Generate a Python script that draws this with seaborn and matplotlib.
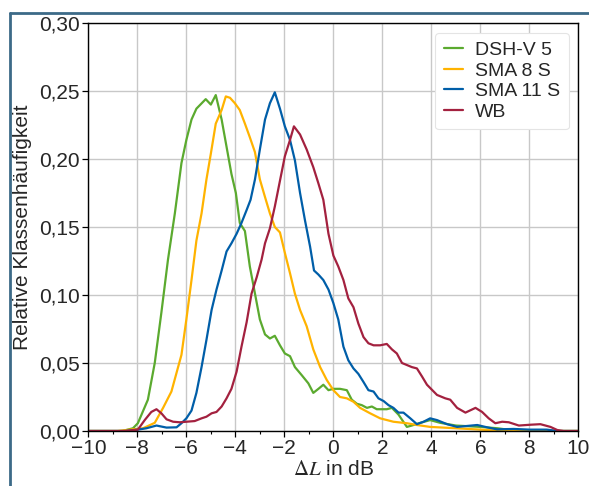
import numpy as np
import pandas as pd
import matplotlib
matplotlib.use("Agg")
import matplotlib.pyplot as plt
import seaborn as sns
from matplotlib.ticker import FuncFormatter, MultipleLocator
from matplotlib.lines import Line2D

series_names = ["DSH-V 5", "SMA 8 S", "SMA 11 S", "WB"]
colors = ["#5BAA2F", "#FFB300", "#005EA8", "#A3213F"]

dsh_x = [-10, -8.6, -8.18, -7.98, -7.57, -7.29, -7.02, -6.75, -6.47, -6.2, -6.0, -5.79, -5.59, -5.21,
         -5.0, -4.8, -4.56, -4.36, -4.16, -3.98, -3.82, -3.61, -3.41, -3.2, -3.0, -2.79, -2.59,
         -2.39, -2.18, -1.98, -1.77, -1.57, -1.29, -1.02, -0.82, -0.61, -0.41, -0.2, 0.0, 0.27,
         0.55, 0.75, 0.96, 1.16, 1.37, 1.57, 1.77, 2.18, 2.39, 2.66, 3.0, 3.2, 3.55, 3.95, 4.36,
         5.0, 6.0, 6.7, 7.5, 10]
dsh_y = [0.0, 0.0, 0.002, 0.0057, 0.023, 0.05, 0.087, 0.126, 0.16, 0.197, 0.214, 0.229, 0.237, 0.244,
         0.240, 0.247, 0.229, 0.209, 0.189, 0.175, 0.153, 0.147, 0.121, 0.101, 0.082, 0.071, 0.068,
         0.070, 0.063, 0.057, 0.055, 0.047, 0.041, 0.035, 0.028, 0.031, 0.034, 0.030, 0.031, 0.031,
         0.030, 0.023, 0.020, 0.019, 0.017, 0.018, 0.016, 0.016, 0.017, 0.012, 0.003, 0.004, 0.006, 0.008, 0.006,
         0.004, 0.003, 0.002, 0.0, 0.0]

sma8_x = [-10, -8.8, -8.3, -7.77, -7.29, -6.95, -6.61, -6.2, -6.0, -5.79, -5.59, -5.38, -5.18, -5.0,
          -4.8, -4.56, -4.39, -4.22, -4.02, -3.82, -3.61, -3.41, -3.2, -3.0, -2.79, -2.59, -2.39,
          -2.18, -1.98, -1.77, -1.57, -1.36, -1.09, -0.82, -0.54, -0.27, 0.0, 0.27, 0.55, 0.82,
          1.09, 1.5, 1.91, 2.45, 3.0, 3.41, 3.95, 5.0, 6.0, 7.0, 10]
sma8_y = [0.0, 0.0, 0.001, 0.002, 0.006, 0.017, 0.029, 0.056, 0.082, 0.111, 0.140, 0.160, 0.185, 0.204,
          0.226, 0.236, 0.246, 0.245, 0.241, 0.236, 0.226, 0.216, 0.205, 0.185, 0.172, 0.160, 0.150,
          0.146, 0.131, 0.116, 0.101, 0.089, 0.077, 0.060, 0.047, 0.0375, 0.030, 0.025, 0.024, 0.0215,
          0.017, 0.013, 0.0093, 0.0068, 0.0057, 0.0044, 0.003, 0.002, 0.001, 0.0, 0.0]

sma11_x = [-10, -8.5, -7.98, -7.63, -7.22, -6.81, -6.4, -6.2, -6.0, -5.79, -5.59, -5.38, -5.18, -4.97,
           -4.77, -4.56, -4.36, -4.16, -3.95, -3.75, -3.54, -3.38, -3.2, -3.0, -2.79, -2.59, -2.39,
           -2.18, -1.98, -1.77, -1.57, -1.36, -1.16, -0.95, -0.79, -0.61, -0.41, -0.2, 0.0, 0.2,
           0.41, 0.61, 0.82, 1.02, 1.23, 1.43, 1.64, 1.84, 2.05, 2.25, 2.45, 2.66, 2.86, 3.14, 3.41,
           3.68, 3.95, 4.23, 4.64, 5.05, 5.46, 5.87, 6.27, 6.68, 7.36, 8.0, 8.7, 9.2, 10]
sma11_y = [0.0, 0.0, 0.001, 0.002, 0.004, 0.0025, 0.0027, 0.0057, 0.0093, 0.015, 0.028, 0.047, 0.067, 0.089,
           0.104, 0.118, 0.132, 0.138, 0.145, 0.153, 0.1625, 0.170, 0.185, 0.207, 0.229, 0.241, 0.249,
           0.237, 0.224, 0.214, 0.199, 0.175, 0.155, 0.1355, 0.118, 0.115, 0.111, 0.104, 0.094, 0.082,
           0.062, 0.052, 0.046, 0.042, 0.036, 0.030, 0.029, 0.024, 0.022, 0.019, 0.017, 0.0135, 0.0135, 0.0093, 0.005,
           0.0068, 0.0093, 0.008, 0.005, 0.003, 0.0037, 0.0044, 0.0027, 0.0012, 0.0015, 0.001, 0.001, 0.0, 0.0]

wb_x = [-10, -8.5, -7.98, -7.7, -7.43, -7.22, -7.02, -6.81, -6.54, -6.27, -6.0, -5.66, -5.38, -5.18,
        -4.97, -4.77, -4.56, -4.36, -4.16, -3.95, -3.75, -3.54, -3.34, -3.13, -2.93, -2.79, -2.59,
        -2.39, -2.18, -1.98, -1.77, -1.61, -1.36, -1.09, -0.82, -0.61, -0.41, -0.2, 0.0, 0.2, 0.41,
        0.61, 0.82, 1.02, 1.23, 1.43, 1.64, 1.91, 2.18, 2.39, 2.59, 2.8, 3.0, 3.2, 3.41, 3.62, 3.82,
        4.23, 4.57, 4.77, 5.05, 5.39, 5.8, 6.07, 6.34, 6.61, 6.89, 7.16, 7.57, 8.04, 8.45, 8.86,
        9.14, 9.4, 10]
wb_y = [0.0, 0.0, 0.001, 0.008, 0.014, 0.016, 0.013, 0.0086, 0.0068, 0.0064, 0.0068, 0.0073, 0.0093, 0.0105,
        0.013, 0.014, 0.018, 0.024, 0.031, 0.0436, 0.062, 0.080, 0.101, 0.113, 0.126, 0.138, 0.149,
        0.165, 0.184, 0.202, 0.214, 0.224, 0.218, 0.207, 0.194, 0.182, 0.170, 0.145, 0.129, 0.121, 0.111,
        0.0975, 0.091, 0.079, 0.069, 0.0645, 0.063, 0.063, 0.064, 0.060, 0.057, 0.050, 0.0485, 0.047, 0.046, 0.040, 0.034,
        0.0265, 0.024, 0.023, 0.017, 0.0135, 0.017, 0.014, 0.0093, 0.0057, 0.0068, 0.0064, 0.004, 0.0046, 0.005, 0.003,
        0.0007, 0.0, 0.0]

frames = []
for name, xs, ys in zip(series_names, [dsh_x, sma8_x, sma11_x, wb_x], [dsh_y, sma8_y, sma11_y, wb_y]):
    frames.append(pd.DataFrame({"x": xs, "y": ys, "Serie": name, "order": np.arange(len(xs))}))
df = pd.concat(frames, ignore_index=True)

sns.set_style("whitegrid")
plt.rcParams["font.family"] = ["Liberation Sans", "DejaVu Sans"]
plt.rcParams["mathtext.fontset"] = "stix"

fig = plt.figure(figsize=(5.89, 4.86), dpi=100)
ax = fig.add_axes([0.150, 0.1132, 0.832, 0.8395])

sns.lineplot(data=df, x="x", y="y", hue="Serie", hue_order=series_names,
             palette=dict(zip(series_names, colors)), sort=False, estimator=None,
             units="Serie", linewidth=1.6, ax=ax, legend=False)

ax.set_xlim(-10, 10)
ax.set_ylim(0, 0.30)
ax.xaxis.set_major_locator(MultipleLocator(2))
ax.xaxis.set_minor_locator(MultipleLocator(1))
ax.yaxis.set_major_locator(MultipleLocator(0.05))
ax.xaxis.set_major_formatter(FuncFormatter(lambda v, p: f"{v:.0f}".replace("-", "\u2212")))
ax.yaxis.set_major_formatter(FuncFormatter(lambda v, p: f"{v:.2f}".replace(".", ",")))

ax.grid(True, which="major", color="#c8c8c8", linewidth=1.0)
ax.grid(False, which="minor")
for s in ax.spines.values():
    s.set_visible(True)
    s.set_color("black")
    s.set_linewidth(1.0)
ax.tick_params(axis="both", which="major", direction="out", length=4, width=0.9,
               labelsize=15, color="black", bottom=True, left=True, pad=2)
ax.tick_params(axis="x", which="minor", direction="out", length=2.5, width=0.8,
               color="black", bottom=True)

ax.set_xlabel(r"$\Delta L$ in dB", fontsize=15, labelpad=1)
ax.set_ylabel("Relative Klassenhäufigkeit", fontsize=15, labelpad=5)

handles = [Line2D([0], [0], color=c, lw=1.6) for c in colors]
leg = ax.legend(handles, series_names, loc="upper right", fontsize=14, frameon=True,
                fancybox=True, framealpha=1.0, handlelength=1.0,
                handletextpad=0.6, borderpad=0.45, labelspacing=0.15,
                bbox_to_anchor=(1.0, 1.0), edgecolor="#e4e4e4", facecolor="white")
leg.get_frame().set_linewidth(0.8)

# outer document frame (left and top edges)
fig.add_artist(Line2D([9.5 / 589, 9.5 / 589], [0, 1 - 13.5 / 486], transform=fig.transFigure,
                      color="#3C6A88", lw=2.0))
fig.add_artist(Line2D([9.5 / 589, 1.0], [1 - 13.5 / 486, 1 - 13.5 / 486], transform=fig.transFigure,
                      color="#3C6A88", lw=2.0))

fig.savefig("out.png", dpi=100)
